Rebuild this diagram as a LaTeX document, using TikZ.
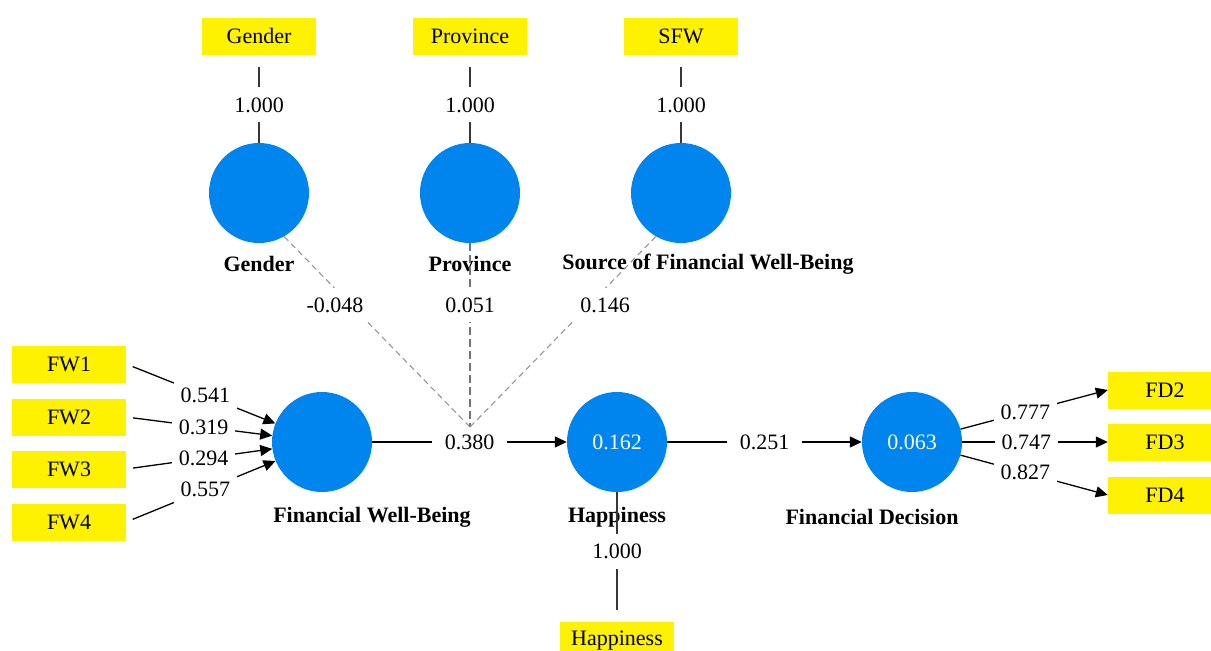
\documentclass[tikz,border=0pt]{standalone}
\usepackage{fontspec}
\setmainfont{Liberation Serif}
\usetikzlibrary{arrows.meta}
\definecolor{boxyellow}{RGB}{255,242,0}
\definecolor{lvblue}{RGB}{0,132,238}
\definecolor{dashgray}{RGB}{150,150,150}
\definecolor{dashdark}{RGB}{115,115,115}
\definecolor{linegray}{RGB}{55,55,55}
\begin{document}
\begin{tikzpicture}[x=1pt,y=-1pt,
 indic/.style={fill=boxyellow, minimum width=114pt, minimum height=37pt, inner sep=0pt, font=\fontsize{22}{26}\selectfont},
 latent/.style={circle, fill=lvblue, minimum size=100pt, inner sep=0pt, text=white, font=\fontsize{22}{26}\selectfont},
 lvname/.style={font=\fontsize{22}{26}\selectfont\bfseries},
 coef/.style={fill=white, inner xsep=7pt, inner ysep=10pt, font=\fontsize{22}{26}\selectfont},
 wide/.style={inner xsep=13pt},
 conn/.style={draw=linegray, line width=1.3pt},
 arr/.style={draw=black, line width=1.3pt, -{Triangle[length=12pt,width=11pt]}},
 mod/.style={draw=dashgray, line width=1.1pt, dash pattern=on 6pt off 4pt},
 moddark/.style={draw=dashdark, line width=1.8pt, dash pattern=on 8pt off 4pt},
]
\useasboundingbox (0,0) rectangle (1211,651);

% indicators
\node[indic] (ig) at (259,36) {Gender};
\node[indic] (ip) at (470,36) {Province};
\node[indic] (is) at (681,36) {SFW};
\node[indic] (fw1) at (69,364) {FW1};
\node[indic] (fw2) at (69,417) {FW2};
\node[indic] (fw3) at (69,469) {FW3};
\node[indic] (fw4) at (69,522) {FW4};
\node[indic] (fd2) at (1165,390) {FD2};
\node[indic] (fd3) at (1165,442) {FD3};
\node[indic] (fd4) at (1165,495) {FD4};
\node[indic] (ih) at (617,640.5) {Happiness};

% latent variables
\node[latent] (g) at (259,193) {};
\node[latent] (p) at (470,193) {};
\node[latent] (s) at (681,193) {};
\node[latent] (fwb) at (322,442) {};
\node[latent] (hap) at (617,442) {0.162};
\node[latent] (fd) at (912,442) {0.063};

% latent names
\node[lvname] (gl) at (259,264) {Gender};
\node[lvname] (pl) at (470,264) {Province};
\node[lvname] (sl) at (708,264) {Source of Financial Well-Being};
\node[lvname] (fwbl) at (372,517) {Financial Well-Being};
\node[lvname] (hapl) at (617,517) {Happiness};
\node[lvname] (fdl) at (872,517) {Financial Decision};

\coordinate (m) at (470,427);

% single-item loadings
\draw[conn, shorten <=12pt] (ig) -- node[coef, pos=0.57] {1.000} (g);
\draw[conn, shorten <=12pt] (ip) -- node[coef, pos=0.57] {1.000} (p);
\draw[conn, shorten <=12pt] (is) -- node[coef, pos=0.57] {1.000} (s);
\draw[conn, shorten >=12pt] (hap) -- node[coef, pos=0.454] {1.000} (ih);

% formative weights
\draw[arr, shorten <=7pt] (fw1.east) -- node[coef, pos=0.53] {0.541} (fwb);
\draw[arr, shorten <=7pt] (fw2.east) -- node[coef, pos=0.53] {0.319} (fwb);
\draw[arr, shorten <=7pt] (fw3.east) -- node[coef, pos=0.53] {0.294} (fwb);
\draw[arr, shorten <=7pt] (fw4.east) -- node[coef, pos=0.53] {0.557} (fwb);

% reflective loadings
\draw[arr] (fd) -- node[coef, pos=0.44] {0.777} (fd2.west);
\draw[arr] (fd) -- node[coef, pos=0.44] {0.747} (fd3.west);
\draw[arr] (fd) -- node[coef, pos=0.44] {0.827} (fd4.west);

% structural paths
\draw[arr] (fwb) -- node[coef, wide] {0.380} (hap);
\draw[arr] (hap) -- node[coef, wide] {0.251} (fd);

% moderating effects
\draw[mod] (g.-60) -- (m);
\draw[moddark] (p.south) -- (m);
\draw[mod] (s.-120) -- (m);
\node[coef] (cg) at (335,305) {-0.048};
\node[coef] (cp) at (470,305) {0.051};
\node[coef] (cs) at (605,305) {0.146};
\end{tikzpicture}
\end{document}
